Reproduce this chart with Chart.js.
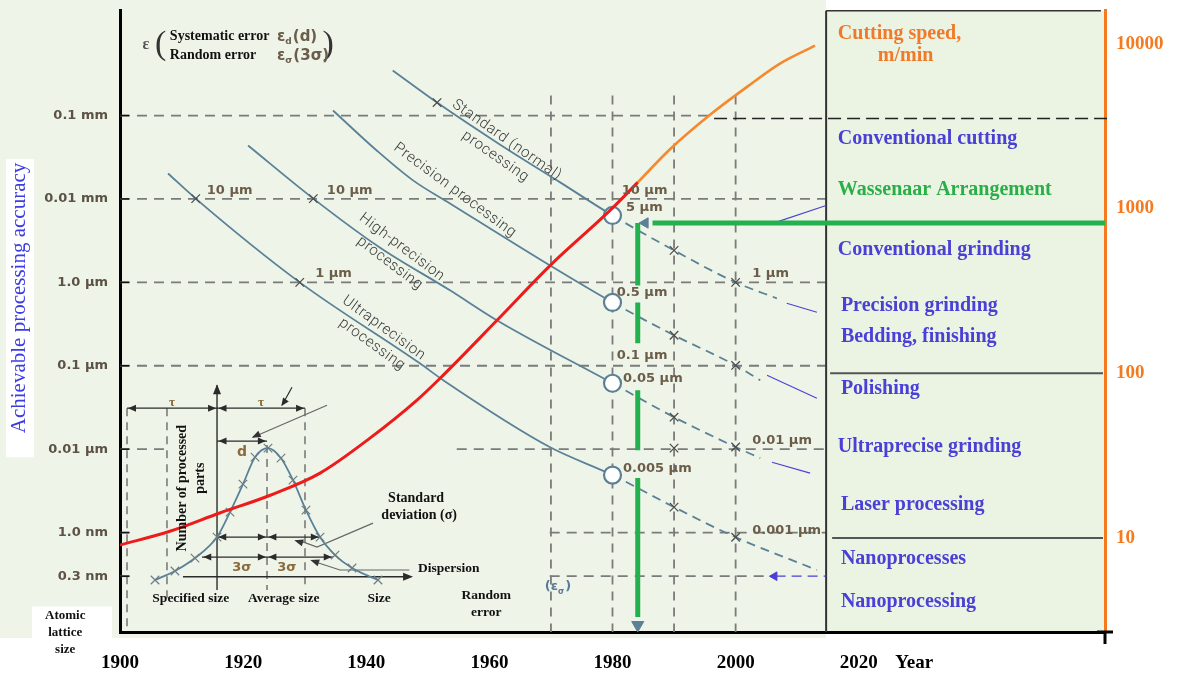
<!DOCTYPE html>
<html>
<head>
<meta charset="utf-8">
<script src="https://cdn.jsdelivr.net/npm/chart.js@4.4.1/dist/chart.umd.min.js"></script>
<style>
html,body{margin:0;padding:0;background:#fff;overflow:hidden;}
#wrap{position:relative;width:1177px;height:675px;}
</style>
</head>
<body>
<div id="wrap"><canvas id="chart"></canvas></div>
<script>
// ---------- axes ----------
const xTickValues = [1900, 1920, 1940, 1960, 1980, 2000, 2020, 2029];
const xTickLabels = ['1900', '1920', '1940', '1960', '1980', '2000', '2020', 'Year'];
const accuracyTickValues = [0.3, 1, 10, 100, 1000, 10000, 100000];
const accuracyTickLabels = ['0.3 nm', '1.0 nm', '0.01 µm', '0.1 µm', '1.0 µm', '0.01 mm', '0.1 mm'];
const speedTickValues = [10, 100, 1000, 10000];
const speedTickLabels = ['10', '100', '1000', '10000'];

// ---------- processing accuracy curves (year, accuracy in nm) ----------
const standardYears = [1944.3, 1951.5, 1961.7, 1971.5, 1980, 1990, 2000, 2006.7];
const standardNm    = [346000, 143000, 45000, 15800, 6340, 2420, 1000, 643];
const precisionYears = [1934.6, 1941.7, 1947.6, 1953.6, 1969.8, 1980, 1990, 2000, 2004];
const precisionNm    = [115000, 38100, 16700, 8830, 1600, 575, 232, 101, 67];
const highYears = [1920.8, 1931.4, 1942.2, 1953.6, 1961.2, 1980, 1990, 2000, 2004];
const highNm    = [43700, 10100, 2620, 802, 351, 61.7, 24.2, 10.6, 7.8];
const ultraYears = [1907.8, 1912.3, 1929.2, 1948.7, 1952.5, 1969.8, 1980, 1990, 2000, 2013.2];
const ultraNm    = [20200, 10100, 1000, 107, 67.1, 10.6, 4.89, 2.02, 0.88, 0.356];

// open circles at 1980
const circleYears = [1980, 1980, 1980, 1980];
const circleNm    = [6340, 575, 61.7, 4.89];
// cross marks
const crossYears = [1951.5, 1912.3, 1931.4, 1929.2, 1990, 1990, 1990, 1990, 1990, 2000, 2000, 2000, 2000];
const crossNm    = [143000, 10100, 10100, 1000, 2420, 232, 24.2, 10.3, 2.02, 1000, 101, 10.6, 0.88];

// ---------- cutting speed (m/min) ----------
const speedYears = [1900, 1908.1, 1916.2, 1924.4, 1932.5, 1940.6, 1948.2, 1952.0, 1961.2, 1969.9, 1979.6, 1984.1];
const speedRed   = [9.07, 11.0, 14.2, 18.2, 24.8, 40.4, 68.5, 93.3, 209, 452, 973, 1439];
const futureYears = [1984.1, 1989.3, 1996.3, 2001.9, 2007.2, 2012.9];
const speedOrange = [1439, 2280, 3819, 5483, 7568, 9725];

// ---------- green markers ----------
const greenHYears = [1986.5, 2060];
const greenHNm    = [5150, 5150];
const greenVYears = [1984.1, 1984.1, 1984.1, 1984.1, 1984.1, 1984.1, 1984.1, 1984.1, 1984.1, 1984.1, 1984.1];
const greenVNm    = [5150, 920, null, 575, 186, null, 50.9, 9.73, null, 4.50, 0.0973];

// ---------- inset distribution (bell curve) ----------
const bellYears = [1905.69, 1908.93, 1912.18, 1915.76, 1917.87, 1919.98, 1921.93, 1924.04, 1926.15, 1928.10, 1930.21, 1932.49, 1934.93, 1937.69, 1941.91];
const bellNm    = [0.270, 0.346, 0.495, 0.883, 1.762, 3.81, 8.02, 10.28, 7.80, 4.26, 1.858, 0.883, 0.538, 0.376, 0.270];

// ---------- blue leader lines from the right panel ----------
const leaderYears = [[2006.5, 2014.7], [2008.3, 2013.2], [2005.1, 2013.2], [2005.9, 2012.1]];
const leaderNm    = [[5240, 8350], [561, 438], [76.9, 40.8], [6.98, 5.16]];

const pts = (xs, ys) => xs.map((x, i) => ({x: x, y: ys[i]}));
const CURVE = '#5b8197';
const BLUE = '#4a40d6';

function curve(label, xs, ys) {
  return {
    label, data: pts(xs, ys), yAxisID: 'y', borderColor: CURVE, borderWidth: 1.8, order: 20,
    pointRadius: 0, cubicInterpolationMode: 'monotone', fill: false,
    segment: { borderDash: c => (c.p0.parsed.x >= 1980 ? [9, 6] : undefined) }
  };
}

const datasets = [
  curve('Standard (normal) processing', standardYears, standardNm),
  curve('Precision processing', precisionYears, precisionNm),
  curve('High-precision processing', highYears, highNm),
  curve('Ultraprecision processing', ultraYears, ultraNm),
  { label: 'Distribution', data: pts(bellYears, bellNm), yAxisID: 'y', borderColor: CURVE, borderWidth: 1.8, order: 20,
    cubicInterpolationMode: 'monotone', pointStyle: 'crossRot', pointRadius: 6, pointBorderColor: '#6d7b84',
    pointBorderWidth: 1.2 },
  { label: 'Cutting speed', data: pts(speedYears, speedRed), yAxisID: 'y2', borderColor: '#ee1b1b', borderWidth: 3,
    pointRadius: 0, cubicInterpolationMode: 'monotone', order: 10 },
  { label: 'Cutting speed (future)', data: pts(futureYears, speedOrange), yAxisID: 'y2', borderColor: '#f6882e',
    borderWidth: 2.6, pointRadius: 0, cubicInterpolationMode: 'monotone', order: 10 },
  { label: 'Crosses', data: pts(crossYears, crossNm), yAxisID: 'y', showLine: false, pointStyle: 'crossRot',
    pointRadius: 6, pointBorderColor: '#4e4e4e', pointBorderWidth: 1.3, order: 15 },
  { label: 'Green H', data: pts(greenHYears, greenHNm), yAxisID: 'y', borderColor: '#22b14c', borderWidth: 5, pointRadius: 0, order: 5 },
  { label: 'Green V', data: pts(greenVYears, greenVNm), yAxisID: 'y', borderColor: '#22b14c', borderWidth: 5, pointRadius: 0, order: 5 },
  { label: 'Circles', data: pts(circleYears, circleNm), yAxisID: 'y', showLine: false, pointStyle: 'circle', order: 12,
    pointRadius: 8.5, pointBackgroundColor: '#ffffff', pointBorderColor: CURVE, pointBorderWidth: 2.2 },
  { label: 'Arrow heads', data: pts([1985.3, 1984.1, 2006.3], [5150, 0.078, 0.3]), yAxisID: 'y', showLine: false,
    pointStyle: 'triangle', rotation: [270, 180, 270], pointRadius: [6, 7, 5], order: 1,
    pointBackgroundColor: [CURVE, CURVE, BLUE], pointBorderColor: [CURVE, CURVE, BLUE] },
];
leaderYears.forEach((ys, i) => datasets.push({ label: 'Leader ' + i, data: pts(ys, leaderNm[i]), yAxisID: 'y',
  borderColor: BLUE, borderWidth: 1.1, pointRadius: 0, order: 18 }));
datasets.push({ label: 'Leader dashed', data: pts([2006.5, 2014.7], [0.3, 0.3]), yAxisID: 'y',
  borderColor: BLUE, borderWidth: 1.3, borderDash: [10, 6], pointRadius: 0, order: 18 });

// ---------- drawing helpers ----------
function strokePath(ctx, p, color, width, dash) {
  ctx.save(); ctx.beginPath();
  p.forEach((q, i) => (i ? ctx.lineTo(q[0], q[1]) : ctx.moveTo(q[0], q[1])));
  ctx.strokeStyle = color; ctx.lineWidth = width; ctx.setLineDash(dash || []); ctx.stroke(); ctx.restore();
}
function head(ctx, from, to, color, len, half) {
  len = len || 8; half = half || 3.5;
  const a = Math.atan2(to[1] - from[1], to[0] - from[0]);
  ctx.save(); ctx.translate(to[0], to[1]); ctx.rotate(a); ctx.beginPath();
  ctx.moveTo(0, 0); ctx.lineTo(-len, -half); ctx.lineTo(-len, half); ctx.closePath();
  ctx.fillStyle = color; ctx.fill(); ctx.restore();
}
function txt(ctx, s, x, y, font, color, align, rot, baseline) {
  ctx.save(); ctx.translate(x, y); if (rot) ctx.rotate(rot * Math.PI / 180);
  ctx.font = font; ctx.fillStyle = color; ctx.textAlign = align || 'left'; ctx.textBaseline = baseline || 'middle';
  ctx.fillText(s, 0, 0); ctx.restore();
}
function width(ctx, s, font) { ctx.save(); ctx.font = font; const w = ctx.measureText(s).width; ctx.restore(); return w; }

const PANEL_START = 2014.7;
const SERIF = '"Liberation Serif", "Times New Roman", serif';
const SANS = '"DejaVu Sans", sans-serif';

const decor = {
  id: 'decor',
  beforeDraw(chart) {
    const {ctx, chartArea: a, scales} = chart;
    const X = v => scales.x.getPixelForValue(v);
    const Y = v => scales.y.getPixelForValue(v);
    ctx.save();
    ctx.fillStyle = '#ffffff'; ctx.fillRect(0, 0, chart.width, chart.height);
    ctx.fillStyle = '#eef5e8'; ctx.fillRect(0, 0, X(PANEL_START), a.bottom + 6);
    ctx.fillStyle = '#ebf3e3'; ctx.fillRect(X(PANEL_START), a.top, a.right - X(PANEL_START), a.bottom - a.top);
    ctx.fillStyle = '#ffffff';
    ctx.fillRect(6, Y(30000), 28, Y(8) - Y(30000));
    ctx.fillRect(32, Y(0.13), 80, 60);
    ctx.restore();
  },
  beforeDatasetsDraw(chart) {
    const {ctx, chartArea: a, scales} = chart;
    const X = v => scales.x.getPixelForValue(v);
    const Y = v => scales.y.getPixelForValue(v);
    const Y2 = v => scales.y2.getPixelForValue(v);
    const P = (yr, nm) => [X(yr), Y(nm)];
    const GRID = '#7b7b7b', D = [10, 7];
    const bottomNm = scales.y.min;
    // horizontal grid
    strokePath(ctx, [P(1900, 1e5), P(1996.5, 1e5)], GRID, 1.8, D);
    [1e4, 1e3, 100].forEach(v => strokePath(ctx, [P(1900, v), P(PANEL_START, v)], GRID, 1.8, D));
    strokePath(ctx, [P(1954.7, 10), P(PANEL_START, 10)], GRID, 1.8, D);
    strokePath(ctx, [P(1900, 10), P(1907.6, 10)], GRID, 1.8, D);
    strokePath(ctx, [P(1969.8, 1), P(PANEL_START, 1)], GRID, 1.8, D);
    strokePath(ctx, [P(1900, 1), P(1902.6, 1)], GRID, 1.8, D);
    strokePath(ctx, [P(1969.8, 0.3), P(2006.5, 0.3)], GRID, 1.8, D);
    strokePath(ctx, [P(1900, 0.3), P(1902.6, 0.3)], GRID, 1.8, D);
    // vertical grid
    [1970, 1980, 1990, 2000].forEach(v => strokePath(ctx, [P(v, 1.74e5), P(v, bottomNm)], GRID, 1.8, [9, 7]));
    // inset dashed verticals
    strokePath(ctx, [P(1901.14, 31), P(1901.14, bottomNm)], GRID, 1.6, [8, 6]);
    strokePath(ctx, [P(1907.63, 31), P(1907.63, 0.156)], GRID, 1.6, [8, 6]);
    strokePath(ctx, [P(1923.88, 11.2), P(1923.88, 0.205)], GRID, 1.6, [8, 6]);
    strokePath(ctx, [P(1930.05, 31), P(1930.05, 0.205)], GRID, 1.6, [8, 6]);

    // right panel frame and separators
    const px = X(PANEL_START);
    strokePath(ctx, [[px, a.top], [px, a.bottom]], '#333', 2);
    strokePath(ctx, [[px, a.top], [a.right - 4, a.top]], '#333', 1.5);
    strokePath(ctx, [P(1996.5, 92000), [a.right + 4, Y(92000)]], '#222', 1.6, [13, 6]);
    strokePath(ctx, [[px + 4, Y2(100)], [a.right - 2, Y2(100)]], '#555', 2);
    strokePath(ctx, [[px + 6, Y2(10)], [a.right - 2, Y2(10)]], '#555', 2);

    // inset solid construction lines
    const K = '#2b2b2b';
    strokePath(ctx, [P(1901.14, 31), P(1930.05, 31)], K, 1.3);
    head(ctx, P(1905, 31), P(1901.3, 31), K); head(ctx, P(1911, 31), P(1915.6, 31), K);
    head(ctx, P(1920, 31), P(1916, 31), K); head(ctx, P(1926, 31), P(1929.9, 31), K);
    strokePath(ctx, [P(1915.76, 0.205), P(1915.76, 58.4)], K, 1.4);
    head(ctx, P(1915.76, 30), P(1915.76, 60), K, 10, 4);
    strokePath(ctx, [P(1910.23, 0.295), P(1947.11, 0.295)], K, 1.4);
    head(ctx, P(1944, 0.295), P(1947.6, 0.295), K, 10, 4);
    strokePath(ctx, [P(1915.76, 12.5), P(1923.88, 12.5)], K, 1.3);
    head(ctx, P(1919, 12.5), P(1916, 12.5), K); head(ctx, P(1920, 12.5), P(1923.7, 12.5), K);
    strokePath(ctx, [P(1933.63, 33.6), P(1921.6, 13.9)], '#666', 1.2);
    head(ctx, P(1924, 17), P(1921.4, 13.7), '#333', 9, 3.5);
    strokePath(ctx, [P(1927.94, 55.3), P(1926.32, 33.6)], K, 1.2);
    head(ctx, P(1927.5, 45), P(1926.2, 33), K);
    [[0.883, 1915.76, 1932.49], [0.509, 1913.32, 1934.6]].forEach(r => {
      const [v, l, rr] = r;
      strokePath(ctx, [P(l, v), P(rr, v)], K, 1.3);
      head(ctx, P(l + 3, v), P(l + 0.2, v), K); head(ctx, P(1921, v), P(1923.7, v), K);
      head(ctx, P(1926.5, v), P(1924.1, v), K); head(ctx, P(rr - 3, v), P(rr - 0.2, v), K);
    });
    strokePath(ctx, [P(1941.1, 1.30), P(1932.0, 0.67), P(1929.6, 0.78)], '#666', 1.2);
    head(ctx, P(1932, 0.67), P(1928.3, 0.81), '#333', 9, 3.5);
    strokePath(ctx, [P(1947.0, 0.356), P(1935.74, 0.356), P(1931.5, 0.45)], '#666', 1.2);
    head(ctx, P(1935.74, 0.356), P(1930.9, 0.47), '#333', 9, 3.5);
  },
  afterDatasetsDraw(chart) {
    const {ctx, chartArea: a, scales} = chart;
    const X = v => scales.x.getPixelForValue(v);
    const Y = v => scales.y.getPixelForValue(v);
    const Y2 = v => scales.y2.getPixelForValue(v);
    // left axis inner ticks and right-end tick
    accuracyTickValues.forEach(v => strokePath(ctx, [[a.left, Y(v)], [a.left + 9, Y(v)]], '#111', 1.5));
    strokePath(ctx, [[a.right, a.bottom], [a.right, a.bottom + 12]], '#000', 3);
    strokePath(ctx, [[a.right - 8, a.bottom], [a.right + 8, a.bottom]], '#000', 3);

    // y-axis title
    txt(ctx, 'Achievable processing accuracy', 19, Y(650), '21px ' + SERIF, '#3c3ce6', 'center', -90);

    // legend (top-left)
    const LG = '#6b5d4a';
    txt(ctx, 'ε', X(1904.2), Y(700000), 'bold 16px ' + SERIF, '#555', 'center');
    txt(ctx, '(', X(1906.6), Y(690000), '34px ' + SERIF, '#333', 'center');
    txt(ctx, ')', X(1933.8), Y(690000), '34px ' + SERIF, '#333', 'center');
    txt(ctx, 'Systematic error', X(1908.1), Y(883000), 'bold 14px ' + SERIF, '#111');
    txt(ctx, 'Random error', X(1908.1), Y(523000), 'bold 14px ' + SERIF, '#111');
    const sub = (main, s, rest, x, y, size, color) => {
      const fBig = 'bold ' + size + 'px ' + SANS, fSmall = 'bold ' + Math.round(size * 0.6) + 'px ' + SANS;
      txt(ctx, main, x, y, fBig, color); x += width(ctx, main, fBig);
      txt(ctx, s, x, y + size * 0.35, fSmall, color); x += width(ctx, s, fSmall) + 1;
      txt(ctx, rest, x, y, fBig, color);
    };
    sub('ε', 'd', '(d)', X(1925.5), Y(883000), 15, LG);
    sub('ε', 'σ', '(3σ)', X(1925.5), Y(523000), 15, LG);

    // rotated curve labels
    const CF = '300 15px Roboto', CC = '#3a3a3a';
    const two = (l1, l2, yr, nm, ang) => {
      ctx.save(); ctx.translate(X(yr), Y(nm)); ctx.rotate(ang * Math.PI / 180);
      ctx.font = CF; ctx.fillStyle = CC; ctx.textAlign = 'center'; ctx.textBaseline = 'middle';
      try { ctx.letterSpacing = '0.6px'; } catch (e) {}
      if (l2) { ctx.fillText(l1, 0, -10); ctx.fillText(l2, 0, 10); } else ctx.fillText(l1, 0, 0);
      ctx.restore();
    };
    two('Standard (normal)', 'processing', 1961.9, 40300, 35);
    two('Precision processing', null, 1954.4, 12640, 36.5);
    two('High-precision', 'processing', 1944.8, 2105, 37);
    two('Ultraprecision', 'processing', 1941.9, 225, 36);

    // value labels
    const VF = 'bold 13px ' + SANS;
    [['10 µm', 1914.1, 12640], ['10 µm', 1933.6, 12640], ['1 µm', 1931.7, 1282], ['10 µm', 1981.5, 12640],
     ['5 µm', 1982.2, 7940], ['0.5 µm', 1980.7, 755], ['0.1 µm', 1980.7, 133.6], ['0.05 µm', 1981.7, 70.8],
     ['0.01 µm', 2002.7, 12.7], ['0.005 µm', 1981.7, 5.92], ['0.001 µm', 2002.7, 1.07], ['1 µm', 2002.7, 1282]]
      .forEach(l => txt(ctx, l[0], X(l[1]), Y(l[2]), VF, LG));
    sub('(ε', 'σ', ')', X(1969.0), Y(0.222), 13, '#5a7a9a');

    // inset labels
    const IF = 'bold 14px ' + SERIF, IS = 'bold 13.5px ' + SERIF;
    txt(ctx, 'Specified size', X(1911.5), Y(0.164), IS, '#111', 'center');
    txt(ctx, 'Average size', X(1926.6), Y(0.164), IS, '#111', 'center');
    txt(ctx, 'Size', X(1942.1), Y(0.164), IS, '#111', 'center');
    txt(ctx, 'Random', X(1959.5), Y(0.174), IS, '#111', 'center');
    txt(ctx, 'error', X(1959.5), Y(0.1086), IS, '#111', 'center');
    txt(ctx, 'Dispersion', X(1953.4), Y(0.376), IS, '#111', 'center');
    txt(ctx, 'Standard', X(1948.1), Y(2.59), IF, '#111', 'center');
    txt(ctx, 'deviation (σ)', X(1948.6), Y(1.62), IF, '#111', 'center');
    txt(ctx, 'Number of processed', X(1910.2), Y(3.41), IF, '#111', 'center', -90);
    txt(ctx, 'parts', X(1913.0), Y(4.5), IF, '#111', 'center', -90);
    txt(ctx, 'd', X(1919.8), Y(9.2), 'bold 14px ' + SANS, '#8a6a3a', 'center');
    txt(ctx, '3σ', X(1919.8), Y(0.376), 'bold 13px ' + SANS, '#8a6a3a', 'center');
    txt(ctx, '3σ', X(1927.1), Y(0.376), 'bold 13px ' + SANS, '#8a6a3a', 'center');
    txt(ctx, 'τ', X(1908.45), Y(36), 'bold 13px ' + SERIF, '#8a6a3a', 'center');
    txt(ctx, 'τ', X(1922.9), Y(36), 'bold 13px ' + SERIF, '#8a6a3a', 'center');
    txt(ctx, 'Atomic', X(1891.1), Y(0.1), 'bold 13px ' + SERIF, '#111', 'center');
    txt(ctx, 'lattice', X(1891.1), Y(0.0625), 'bold 13px ' + SERIF, '#111', 'center');
    txt(ctx, 'size', X(1891.1), Y(0.0392), 'bold 13px ' + SERIF, '#111', 'center');

    // right panel labels
    const PF = 'bold 20px ' + SERIF;
    [['Cutting speed,', 2016.6, 11510, '#f07a2a'], ['m/min', 2023.1, 8450, '#f07a2a'],
     ['Conventional cutting', 2016.6, 2655, BLUE], ['Wassenaar Arrangement', 2016.6, 1303, '#2aaf48'],
     ['Conventional grinding', 2016.6, 565, BLUE], ['Precision grinding', 2017.1, 258, BLUE],
     ['Bedding, finishing', 2017.1, 167.5, BLUE], ['Polishing', 2017.1, 80, BLUE],
     ['Ultraprecise grinding', 2016.6, 35.6, BLUE], ['Laser processing', 2017.1, 15.85, BLUE],
     ['Nanoprocesses', 2017.1, 7.46, BLUE], ['Nanoprocessing', 2017.1, 4.09, BLUE]]
      .forEach(l => txt(ctx, l[0], X(l[1]), Y2(l[2]), PF, l[3]));
  }
};

const noPad = s => { s.paddingTop = 0; s.paddingBottom = 0; };

new Chart(document.getElementById('chart'), {
  type: 'line',
  data: { datasets },
  plugins: [decor],
  options: {
    responsive: true, maintainAspectRatio: false, animation: false,
    layout: { padding: { top: 10, left: 0, right: 0, bottom: 0 } },
    plugins: { legend: { display: false }, tooltip: { enabled: false } },
    scales: {
      x: {
        type: 'linear', min: 1900, max: 2060,
        afterFit(s) { s.height = 43; s.paddingLeft = 0; s.paddingRight = 0; },
        afterBuildTicks(s) { s.ticks = xTickValues.map(v => ({ value: v })); },
        grid: { display: false, drawTicks: false, tickLength: 0 },
        border: { display: true, color: '#000', width: 3 },
        ticks: { autoSkip: false, maxRotation: 0, padding: 20, color: '#000',
          font: { family: 'Liberation Serif', size: 19, weight: 'bold' },
          callback: (v) => xTickLabels[xTickValues.indexOf(v)] }
      },
      y: {
        type: 'logarithmic', position: 'left', min: 0.0643, max: 1.807e6,
        afterFit(s) { s.width = 120; noPad(s); },
        afterBuildTicks(s) { s.ticks = accuracyTickValues.map(v => ({ value: v })); },
        grid: { display: false, drawTicks: false, tickLength: 0 },
        border: { display: true, color: '#000', width: 3 },
        ticks: { autoSkip: false, padding: 12, color: '#5d5246',
          font: { family: 'DejaVu Sans', size: 13, weight: 'bold' },
          callback: (v) => accuracyTickLabels[accuracyTickValues.indexOf(v)] }
      },
      y2: {
        type: 'logarithmic', position: 'right', min: 2.693, max: 15849,
        afterFit(s) { s.width = 72; noPad(s); },
        afterBuildTicks(s) { s.ticks = speedTickValues.map(v => ({ value: v })); },
        grid: { display: false, drawTicks: false, tickLength: 0 },
        border: { display: true, color: '#f57a1e', width: 3 },
        ticks: { autoSkip: false, padding: 11, color: '#f57a1e',
          font: { family: 'Liberation Serif', size: 19, weight: 'bold' },
          callback: (v) => speedTickLabels[speedTickValues.indexOf(v)] }
      }
    }
  }
});
</script>
</body>
</html>
